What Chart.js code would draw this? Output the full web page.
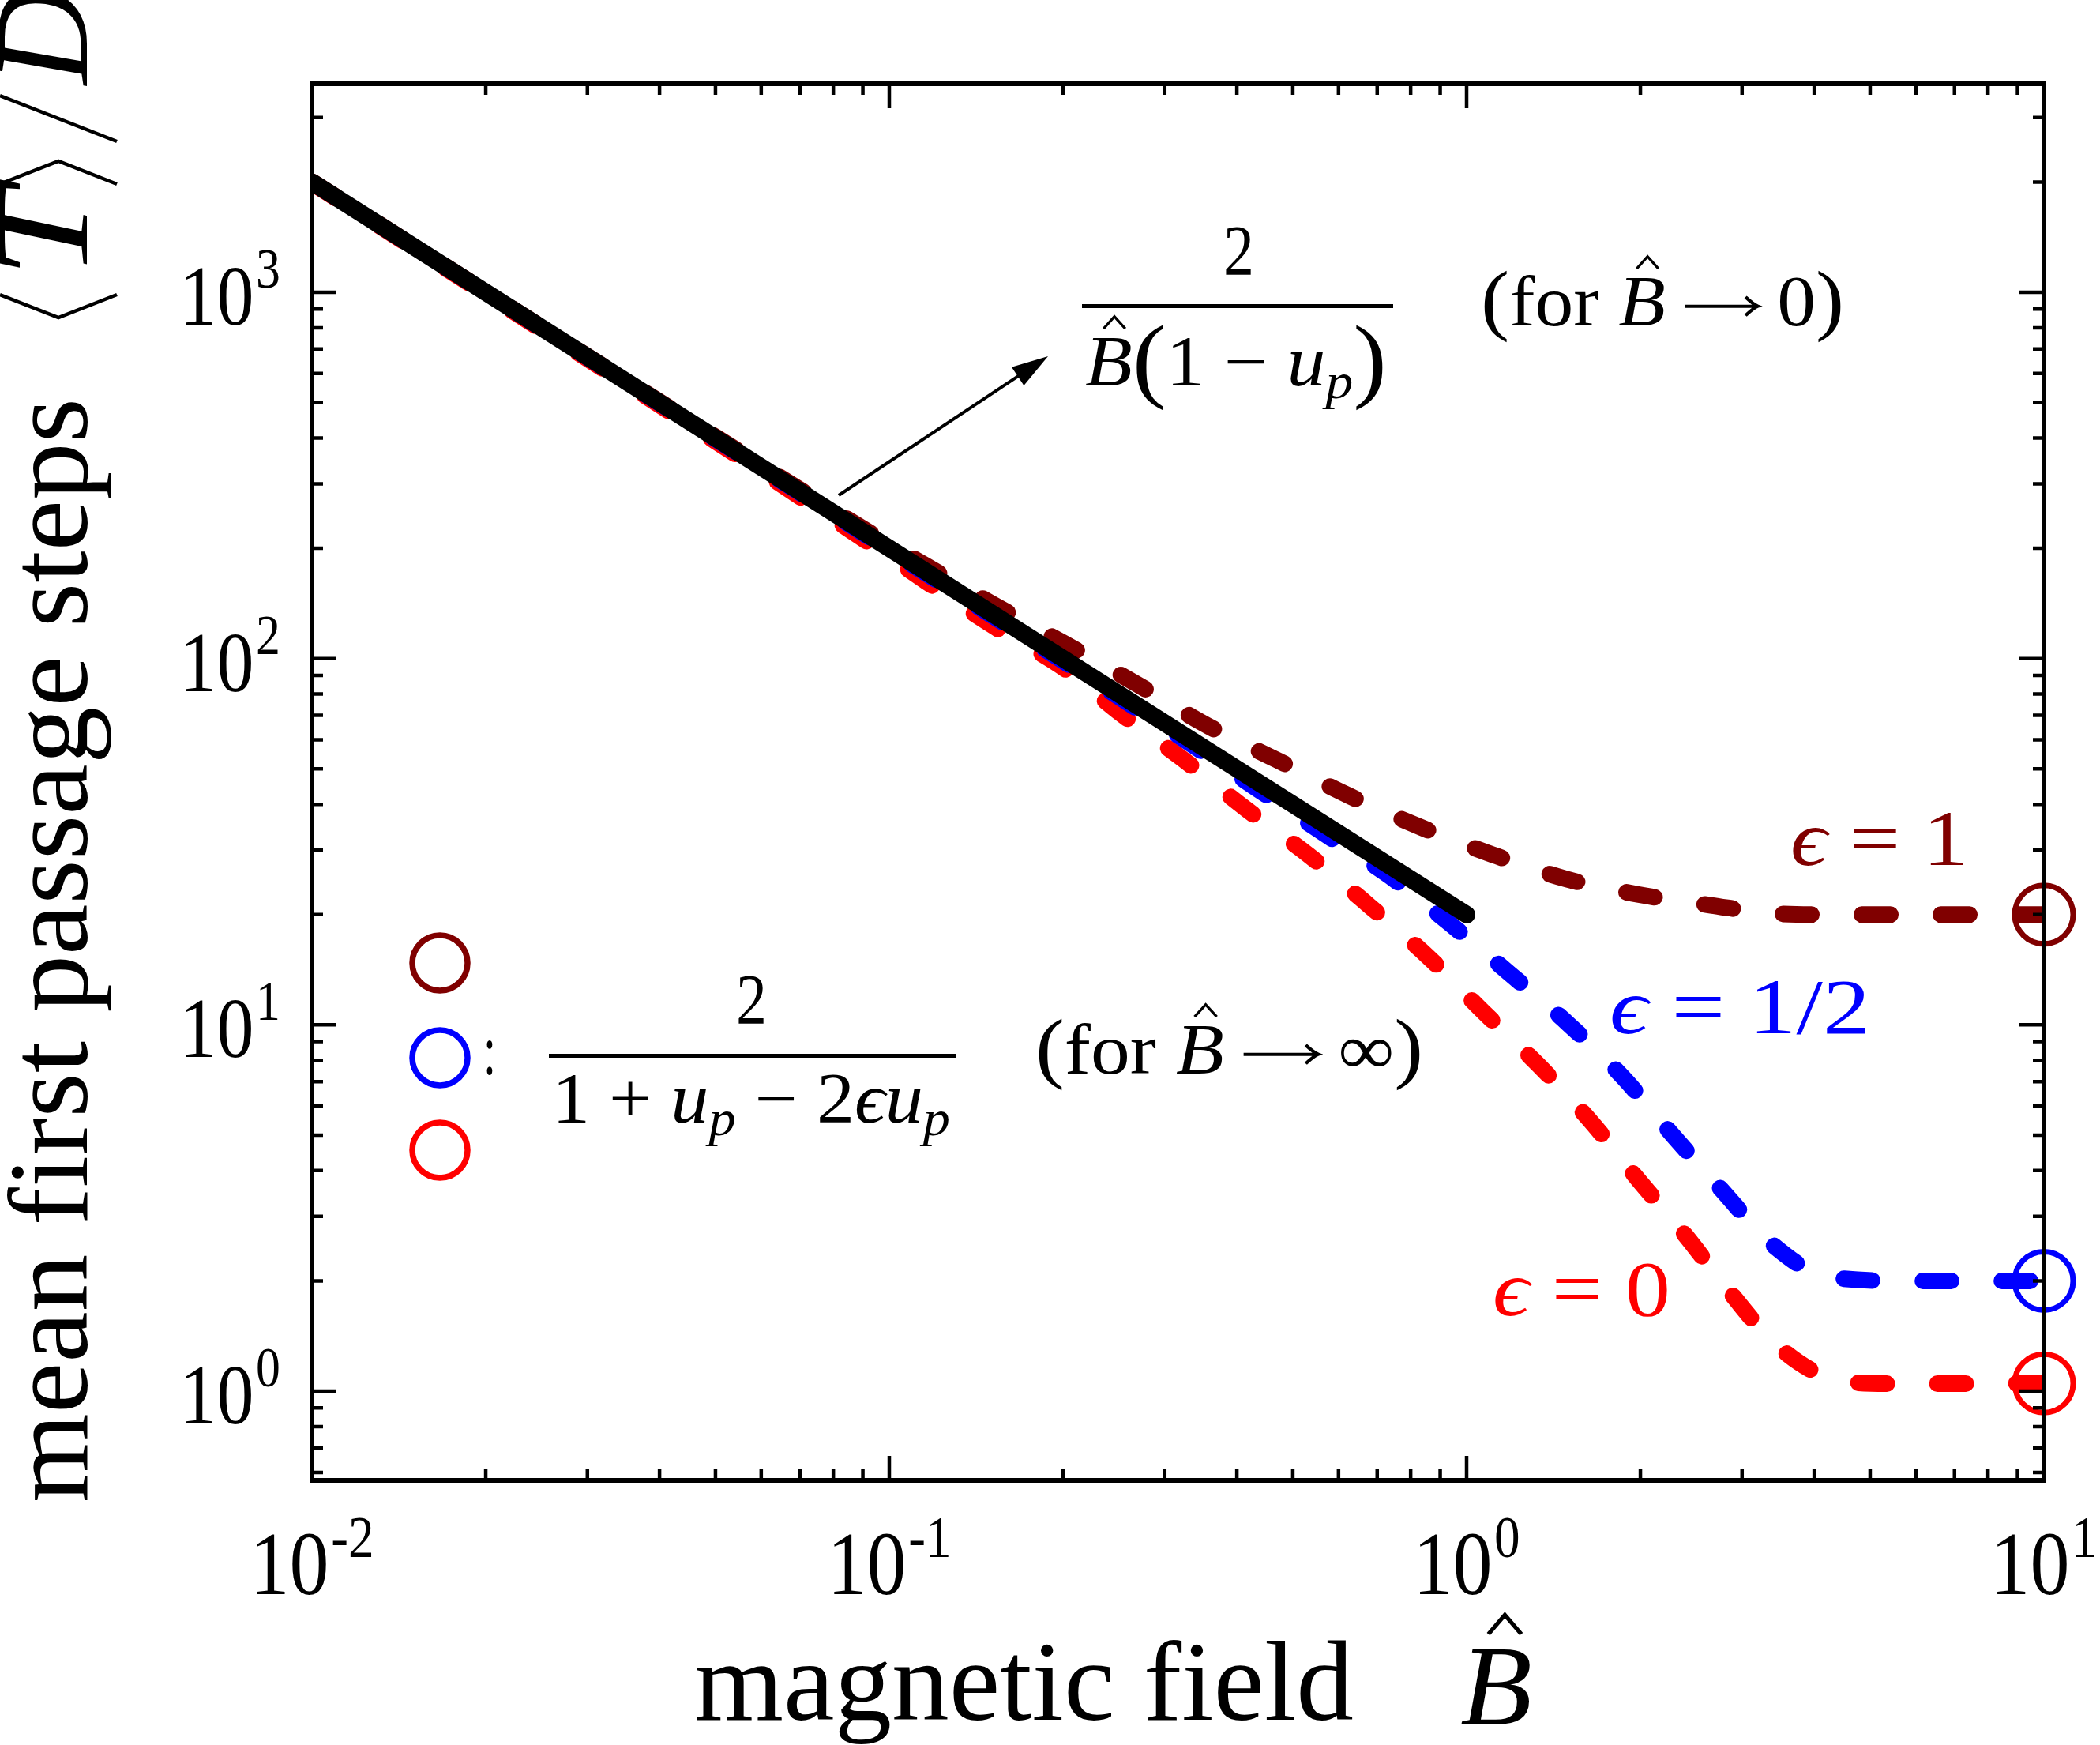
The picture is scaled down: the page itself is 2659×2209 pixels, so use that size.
<!DOCTYPE html>
<html>
<head>
<meta charset="utf-8">
<script src="https://cdn.jsdelivr.net/npm/chart.js@4.4.1/dist/chart.umd.min.js"></script>
<style>
html, body { margin: 0; padding: 0; background: #fff; }
#wrap { width: 2659px; height: 2209px; position: relative; }
</style>
</head>
<body>
<div id="wrap"><canvas id="chart"></canvas></div>
<script>
// axis ticks
var xMajor = [0.01, 0.1, 1, 10];
var xMajorExp = ["-2", "-1", "0", "1"];
var yMajor = [1, 10, 100, 1000];
var yMajorExp = ["0", "1", "2", "3"];

// small-field asymptote 2 / (B (1 - up))
var fieldLow = [0.01, 1];
var stepsLow = [2000, 20];

// eps = 1
var fieldEps1 = [0.01, 0.02, 0.05, 0.1, 0.116, 0.152, 0.201, 0.269, 0.355, 0.471, 0.63, 0.838, 1.106, 1.49, 1.98, 2.65, 3.32, 4.23, 6, 10];
var stepsEps1 = [2005, 1003, 403, 205, 179, 140, 110, 85, 65.7, 52.7, 42, 34.5, 29.2, 25, 22.7, 21.2, 20.2, 20, 20, 20];

// eps = 1/2
var fieldEps05 = [0.01, 0.02, 0.05, 0.1, 0.2, 0.329, 0.4345, 0.566, 0.73, 0.939, 1.194, 1.5, 1.86, 2.3, 2.75, 3.37, 4.23, 5.87, 10];
var stepsEps05 = [1998, 998, 398, 198, 98.5, 59.2, 44, 33.3, 25.7, 18.8, 13.7, 10.06, 7.23, 4.9, 3.58, 2.53, 2.05, 2.0, 2.0];

// eps = 0
var fieldEps0 = [0.01, 0.02, 0.05, 0.1, 0.116, 0.151, 0.201, 0.249, 0.3207, 0.418, 0.532, 0.684, 0.859, 1.066, 1.338, 1.638, 1.98, 2.39, 2.86, 3.45, 4.34, 5.44, 10];
var stepsEps0 = [1990, 990, 392, 190, 162, 123, 94, 71.7, 53.5, 38.5, 29.1, 20.9, 15.3, 10.9, 7.71, 5.47, 3.79, 2.67, 1.86, 1.33, 1.077, 1.048, 1.05];

// large-field limits 2 / (1 + up - 2 eps up)
var limitField = [10, 10, 10];
var limitSteps = [20, 2, 1.05];

var DARKRED = "#800000";
var BLUE = "#0000ff";
var RED = "#ff0000";
var limitColors = [DARKRED, BLUE, RED];

var SERIF = '"Liberation Serif", "DejaVu Serif", serif';

function toPoints(xs, ys) {
  var pts = [];
  for (var i = 0; i < xs.length; i++) pts.push({ x: xs[i], y: ys[i] });
  return pts;
}

function fontOf(size, italic) {
  return (italic ? "italic " : "") + size + "px " + SERIF;
}

function drawHat(ctx, cx, size) {
  var hw = size * 0.14;
  ctx.beginPath();
  ctx.moveTo(cx - hw, -size * 0.8);
  ctx.lineTo(cx, -size * 0.97);
  ctx.lineTo(cx + hw, -size * 0.8);
  ctx.lineWidth = size * 0.035;
  ctx.stroke();
}

// long math arrow drawn inside a run
function drawArrow(ctx, x, w, size) {
  var y = -size * 0.27;
  ctx.beginPath();
  ctx.moveTo(x, y);
  ctx.lineTo(x + w, y);
  ctx.moveTo(x + w - size * 0.16, y - size * 0.13);
  ctx.quadraticCurveTo(x + w - size * 0.05, y - size * 0.02, x + w, y);
  ctx.quadraticCurveTo(x + w - size * 0.05, y + size * 0.02, x + w - size * 0.16, y + size * 0.13);
  ctx.lineWidth = size * 0.045;
  ctx.stroke();
}

// draws a row of text pieces, squeezed to span x0..x1
function drawRuns(ctx, runs, x0, x1, base, color) {
  var w = 0;
  for (var i = 0; i < runs.length; i++) {
    var r = runs[i];
    ctx.font = fontOf(r.size, r.italic);
    r.w = r.arrow ? r.size * 0.95 : ctx.measureText(r.t).width;
    r.x = w + (r.pre || 0);
    w = r.x + r.w;
  }
  var s = (x1 - x0) / w;
  ctx.save();
  ctx.translate(x0, base);
  ctx.scale(s, 1);
  ctx.fillStyle = color;
  ctx.strokeStyle = color;
  ctx.textAlign = "left";
  ctx.textBaseline = "alphabetic";
  for (var j = 0; j < runs.length; j++) {
    var q = runs[j];
    if (q.arrow) { drawArrow(ctx, q.x, q.w, q.size); continue; }
    ctx.font = fontOf(q.size, q.italic);
    ctx.fillText(q.t, q.x, q.dy || 0);
    if (q.hat) drawHat(ctx, q.x + q.w * 0.62, q.size);
  }
  ctx.restore();
}

function drawPow(ctx, exp, left, base, mainSize, supSize, hs) {
  ctx.save();
  ctx.translate(left, base);
  ctx.scale(hs, 1);
  ctx.fillStyle = "#000";
  ctx.textAlign = "left";
  ctx.textBaseline = "alphabetic";
  ctx.font = fontOf(mainSize);
  var w = ctx.measureText("10").width;
  ctx.fillText("10", 0, 0);
  ctx.font = fontOf(supSize);
  ctx.fillText(exp, w + 3, -47);
  ctx.restore();
}

function powWidth(ctx, exp, mainSize, supSize, hs) {
  ctx.font = fontOf(mainSize);
  var w = ctx.measureText("10").width + 3;
  ctx.font = fontOf(supSize);
  w += ctx.measureText(exp).width;
  return w * hs;
}

function minorTicks(majors, lo, hi) {
  var out = [];
  for (var i = -1; i < majors.length; i++) {
    var base = i < 0 ? majors[0] / 10 : majors[i];
    for (var k = 2; k <= 9; k++) {
      var v = base * k;
      if (v > lo && v < hi) out.push(v);
    }
  }
  return out;
}

var framePlugin = {
  id: "frame",
  afterDatasetsDraw: function (chart) {
    var ctx = chart.ctx;
    var a = chart.chartArea;
    var xs = chart.scales.x;
    var ys = chart.scales.y;
    ctx.save();
    ctx.strokeStyle = "#000";
    ctx.lineWidth = 6;
    ctx.strokeRect(a.left, a.top, a.right - a.left, a.bottom - a.top);

    ctx.lineWidth = 4.5;
    ctx.lineCap = "butt";
    var xm = minorTicks(xMajor, xs.min, xs.max);
    var ym = minorTicks(yMajor, ys.min, ys.max);
    function xt(v, len) {
      var px = xs.getPixelForValue(v);
      ctx.beginPath();
      ctx.moveTo(px, a.bottom); ctx.lineTo(px, a.bottom - len);
      ctx.moveTo(px, a.top); ctx.lineTo(px, a.top + len);
      ctx.stroke();
    }
    function yt(v, len) {
      var py = ys.getPixelForValue(v);
      ctx.beginPath();
      ctx.moveTo(a.left, py); ctx.lineTo(a.left + len, py);
      ctx.moveTo(a.right, py); ctx.lineTo(a.right - len, py);
      ctx.stroke();
    }
    xMajor.forEach(function (v) { xt(v, 31); });
    xm.forEach(function (v) { xt(v, 14); });
    yMajor.forEach(function (v) { yt(v, 31); });
    ym.forEach(function (v) { yt(v, 14); });
    ctx.restore();
  },
  afterDraw: function (chart) {
    var ctx = chart.ctx;
    var xs = chart.scales.x;
    var ys = chart.scales.y;
    ctx.save();

    // tick labels
    for (var i = 0; i < xMajor.length; i++) {
      var px = xs.getPixelForValue(xMajor[i]);
      var w = powWidth(ctx, xMajorExp[i], 115, 75, 0.87);
      drawPow(ctx, xMajorExp[i], px - w / 2, 2018, 115, 75, 0.87);
    }
    for (var j = 0; j < yMajor.length; j++) {
      var py = ys.getPixelForValue(yMajor[j]);
      var wy = powWidth(ctx, yMajorExp[j], 108, 71, 0.87);
      drawPow(ctx, yMajorExp[j], 355 - wy, py + 41, 108, 71, 0.87);
    }

    // x axis title
    drawRuns(ctx, [{ t: "magnetic field", size: 145 }], 879, 1714, 2177, "#000");
    drawRuns(ctx, [{ t: "B", size: 143, italic: true, hat: true }], 1849, 1940, 2183, "#000");

    // y axis title (rotated)
    ctx.save();
    ctx.translate(110, 1902);
    ctx.rotate(-Math.PI / 2);
    drawRuns(ctx, [{ t: "mean first passage steps", size: 145 }], 0, 1398, 0, "#000");
    ctx.strokeStyle = "#000";
    ctx.lineWidth = 4.5;
    ctx.beginPath();
    ctx.moveTo(1529, -110); ctx.lineTo(1500, -36); ctx.lineTo(1529, 38);
    ctx.stroke();
    drawRuns(ctx, [{ t: "T", size: 170, italic: true }], 1550, 1663, 0, "#000");
    ctx.beginPath();
    ctx.moveTo(1669, -110); ctx.lineTo(1698, -36); ctx.lineTo(1669, 38);
    ctx.stroke();
    ctx.beginPath();
    ctx.moveTo(1781, -110); ctx.lineTo(1723, 38);
    ctx.stroke();
    ctx.fillStyle = "#000";
    ctx.font = fontOf(170, true);
    ctx.fillText("D", 1795, 0);
    ctx.restore();

    // small-field formula
    drawRuns(ctx, [{ t: "2", size: 90 }], 1549, 1588, 348, "#000");
    ctx.fillStyle = "#000";
    ctx.fillRect(1370, 385, 394, 5);
    drawRuns(ctx, [
      { t: "B", size: 90, italic: true, hat: true },
      { t: "(", size: 118, dy: 6 },
      { t: "1", size: 90 },
      { t: " \u2212 ", size: 90 },
      { t: "u", size: 90, italic: true },
      { t: "p", size: 64, italic: true, dy: 16 },
      { t: ")", size: 118, dy: 6 }
    ], 1374, 1756, 488, "#000");
    drawRuns(ctx, [
      { t: "(", size: 100 },
      { t: "for ", size: 90 },
      { t: "B", size: 90, italic: true, hat: true },
      { t: " ", size: 90 },
      { arrow: true, size: 90 },
      { t: " 0", size: 90 },
      { t: ")", size: 100 }
    ], 1875, 2335, 412, "#000");

    // arrow
    ctx.strokeStyle = "#000";
    ctx.lineWidth = 4;
    var ax0 = 1062, ay0 = 627, ax1 = 1327, ay1 = 451;
    var ang = Math.atan2(ay1 - ay0, ax1 - ax0);
    ctx.beginPath();
    ctx.moveTo(ax0, ay0);
    ctx.lineTo(ax1 - 30 * Math.cos(ang), ay1 - 30 * Math.sin(ang));
    ctx.stroke();
    ctx.beginPath();
    ctx.moveTo(ax1, ay1);
    ctx.lineTo(ax1 - 46 * Math.cos(ang) + 14 * Math.sin(ang), ay1 - 46 * Math.sin(ang) - 14 * Math.cos(ang));
    ctx.lineTo(ax1 - 46 * Math.cos(ang) - 14 * Math.sin(ang), ay1 - 46 * Math.sin(ang) + 14 * Math.cos(ang));
    ctx.closePath();
    ctx.fill();

    // large-field legend
    var legendY = [1219, 1339, 1456];
    for (var k = 0; k < 3; k++) {
      ctx.beginPath();
      ctx.strokeStyle = limitColors[k];
      ctx.lineWidth = 7.5;
      ctx.arc(557, legendY[k], 35, 0, Math.PI * 2);
      ctx.stroke();
    }
    drawRuns(ctx, [{ t: ":", size: 90 }], 612, 628, 1360, "#000");
    drawRuns(ctx, [{ t: "2", size: 90 }], 932, 971, 1296, "#000");
    ctx.fillStyle = "#000";
    ctx.fillRect(695, 1334, 515, 5);
    drawRuns(ctx, [
      { t: "1", size: 90 },
      { t: " + ", size: 90 },
      { t: "u", size: 90, italic: true },
      { t: "p", size: 64, italic: true, dy: 16 },
      { t: " \u2212 ", size: 90 },
      { t: "2", size: 90 },
      { t: "\u03f5", size: 90, italic: true },
      { t: "u", size: 90, italic: true },
      { t: "p", size: 64, italic: true, dy: 16 }
    ], 699, 1203, 1421, "#000");
    drawRuns(ctx, [
      { t: "(", size: 100 },
      { t: "for ", size: 90 },
      { t: "B", size: 90, italic: true, hat: true },
      { t: " ", size: 90 },
      { arrow: true, size: 90 },
      { t: " \u221e", size: 90 },
      { t: ")", size: 100 }
    ], 1311, 1802, 1359, "#000");

    // curve labels
    drawRuns(ctx, [{ t: "\u03f5", size: 100, italic: true }, { t: " = 1", size: 100 }], 2267, 2492, 1095, DARKRED);
    drawRuns(ctx, [{ t: "\u03f5", size: 100, italic: true }, { t: " = 1/2", size: 100 }], 2038, 2368, 1308, BLUE);
    drawRuns(ctx, [{ t: "\u03f5", size: 100, italic: true }, { t: " = 0", size: 100 }], 1890, 2115, 1665, RED);

    ctx.restore();
  }
};

function dashed(label, xs, ys, color) {
  return {
    label: label,
    data: toPoints(xs, ys),
    showLine: true,
    borderColor: color,
    borderWidth: 21,
    borderDash: [36, 64],
    borderCapStyle: "round",
    cubicInterpolationMode: "monotone",
    pointRadius: 0,
    fill: false
  };
}

var chart = new Chart(document.getElementById("chart"), {
  type: "scatter",
  data: {
    datasets: [
      {
        label: "2/(B(1-up))",
        data: toPoints(fieldLow, stepsLow),
        showLine: true,
        borderColor: "#000",
        borderWidth: 22,
        borderCapStyle: "round",
        pointRadius: 0,
        fill: false
      },
      dashed("eps = 1", fieldEps1, stepsEps1, DARKRED),
      dashed("eps = 1/2", fieldEps05, stepsEps05, BLUE),
      dashed("eps = 0", fieldEps0, stepsEps0, RED),
      {
        label: "B -> infinity",
        data: toPoints(limitField, limitSteps),
        showLine: false,
        pointRadius: 37,
        pointBorderWidth: 7,
        pointBorderColor: limitColors,
        pointBackgroundColor: "rgba(0,0,0,0)",
        clip: false
      }
    ]
  },
  options: {
    responsive: true,
    maintainAspectRatio: false,
    devicePixelRatio: 1,
    animation: false,
    events: [],
    layout: { padding: { left: 395, right: 71, top: 106, bottom: 335 } },
    plugins: { legend: { display: false }, tooltip: { enabled: false } },
    scales: {
      x: { type: "logarithmic", min: 0.01, max: 10, display: false },
      y: { type: "logarithmic", min: 0.5706, max: 3710, display: false }
    }
  },
  plugins: [framePlugin]
});
</script>
</body>
</html>
